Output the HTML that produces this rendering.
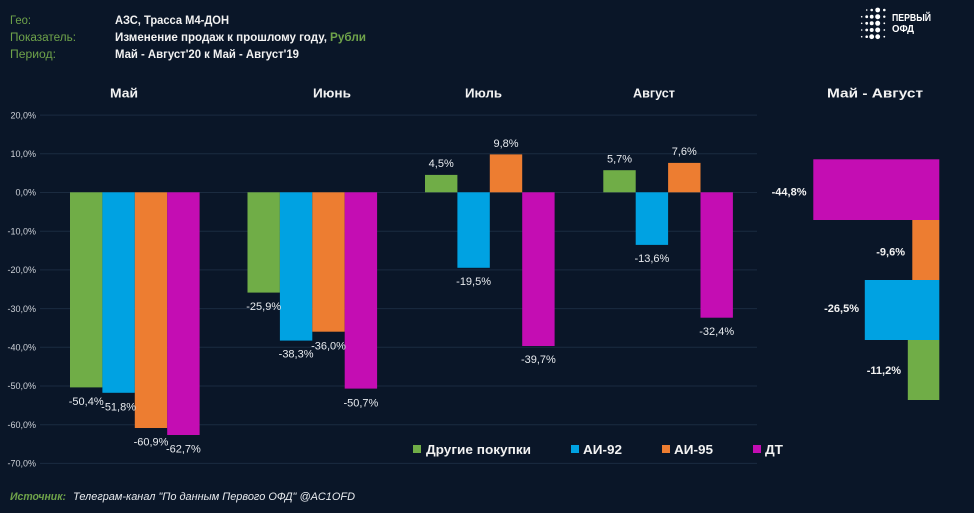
<!DOCTYPE html>
<html>
<head>
<meta charset="utf-8">
<style>
html,body{margin:0;padding:0;background:#0a1628;}
svg{display:block;}
text{font-family:"Liberation Sans","Noto Sans CJK SC",sans-serif;}
</style>
</head>
<body>
<svg width="974" height="513" viewBox="0 0 974 513" xmlns="http://www.w3.org/2000/svg">
<rect x="0" y="0" width="974" height="513" fill="#0a1628"/>

<!-- Header -->
<g font-size="11.5" fill="#6fa34a">
  <text x="10" y="24" textLength="21" lengthAdjust="spacingAndGlyphs">Гео:</text>
  <text x="10" y="41" textLength="66" lengthAdjust="spacingAndGlyphs">Показатель:</text>
  <text x="10" y="58" textLength="46" lengthAdjust="spacingAndGlyphs">Период:</text>
</g>
<g font-size="11.5" font-weight="bold" fill="#f2f2f2">
  <text x="115" y="24" textLength="114" lengthAdjust="spacingAndGlyphs">АЗС, Трасса М4-ДОН</text>
  <text x="115" y="41" textLength="212" lengthAdjust="spacingAndGlyphs">Изменение продаж к прошлому году,</text>
  <text x="330" y="41" textLength="36" lengthAdjust="spacingAndGlyphs" fill="#6fa34a">Рубли</text>
  <text x="115" y="58" textLength="184" lengthAdjust="spacingAndGlyphs">Май - Август'20 к Май - Август'19</text>
</g>

<!-- Logo -->
<g fill="#ffffff">
  <circle cx="866.7" cy="10" r="0.8"/><circle cx="871.7" cy="10" r="1.3"/><circle cx="877.7" cy="10" r="2.4"/><circle cx="884.3" cy="10" r="1.3"/>
  <circle cx="861.7" cy="16.7" r="0.8"/><circle cx="866.7" cy="16.7" r="1.4"/><circle cx="871.7" cy="16.7" r="1.9"/><circle cx="877.7" cy="16.7" r="2.5"/><circle cx="884.3" cy="16.7" r="1.2"/>
  <circle cx="861.7" cy="23.3" r="0.8"/><circle cx="866.7" cy="23.3" r="1.4"/><circle cx="871.7" cy="23.3" r="2.0"/><circle cx="877.7" cy="23.3" r="2.5"/><circle cx="884.3" cy="23.3" r="0.9"/>
  <circle cx="861.7" cy="30" r="0.8"/><circle cx="866.7" cy="30" r="1.4"/><circle cx="871.7" cy="30" r="2.0"/><circle cx="877.7" cy="30" r="2.5"/><circle cx="884.3" cy="30" r="0.9"/>
  <circle cx="861.7" cy="36.7" r="0.8"/><circle cx="866.7" cy="36.7" r="1.3"/><circle cx="871.7" cy="36.7" r="2.4"/><circle cx="877.7" cy="36.7" r="2.4"/><circle cx="884.3" cy="36.7" r="0.9"/>
</g>
<g font-size="10" font-weight="bold" fill="#ffffff">
  <text x="892" y="21" textLength="39" lengthAdjust="spacingAndGlyphs">ПЕРВЫЙ</text>
  <text x="892" y="32" textLength="22" lengthAdjust="spacingAndGlyphs">ОФД</text>
</g>

<!-- Category titles -->
<g font-size="13" font-weight="bold" fill="#f2f2f2">
  <text x="110" y="97.5" textLength="28" lengthAdjust="spacingAndGlyphs">Май</text>
  <text x="313" y="97.5" textLength="38" lengthAdjust="spacingAndGlyphs">Июнь</text>
  <text x="465" y="97.5" textLength="37" lengthAdjust="spacingAndGlyphs">Июль</text>
  <text x="633" y="97.5" textLength="42" lengthAdjust="spacingAndGlyphs">Август</text>
  <text x="827" y="97.5" textLength="96" lengthAdjust="spacingAndGlyphs">Май - Август</text>
</g>

<!-- Gridlines -->
<g stroke="#1b2b40" stroke-width="1">
  <line x1="40" y1="115.1" x2="757" y2="115.1"/>
  <line x1="40" y1="153.8" x2="757" y2="153.8"/>
  <line x1="40" y1="192.5" x2="757" y2="192.5"/>
  <line x1="40" y1="231.2" x2="757" y2="231.2"/>
  <line x1="40" y1="269.9" x2="757" y2="269.9"/>
  <line x1="40" y1="308.6" x2="757" y2="308.6"/>
  <line x1="40" y1="347.3" x2="757" y2="347.3"/>
  <line x1="40" y1="386" x2="757" y2="386"/>
  <line x1="40" y1="424.7" x2="757" y2="424.7"/>
  <line x1="40" y1="463.4" x2="757" y2="463.4"/>
</g>

<!-- Y axis labels -->
<g font-size="9" fill="#cdd1d8" text-anchor="end">
  <text x="36" y="118.3">20,0%</text>
  <text x="36" y="157">10,0%</text>
  <text x="36" y="195.7">0,0%</text>
  <text x="36" y="234.4">-10,0%</text>
  <text x="36" y="273.1">-20,0%</text>
  <text x="36" y="311.8">-30,0%</text>
  <text x="36" y="350.5">-40,0%</text>
  <text x="36" y="389.2">-50,0%</text>
  <text x="36" y="427.9">-60,0%</text>
  <text x="36" y="466.6">-70,0%</text>
</g>

<!-- Bars: May -->
<rect x="70" y="192.3" width="32.4" height="195.1" fill="#70ad47"/>
<rect x="102.4" y="192.3" width="32.4" height="200.5" fill="#00a2e2"/>
<rect x="134.8" y="192.3" width="32.4" height="235.7" fill="#ed7d31"/>
<rect x="167.2" y="192.3" width="32.4" height="242.7" fill="#c40db3"/>
<!-- June -->
<rect x="247.5" y="192.3" width="32.4" height="100.3" fill="#70ad47"/>
<rect x="279.9" y="192.3" width="32.4" height="148.3" fill="#00a2e2"/>
<rect x="312.3" y="192.3" width="32.4" height="139.4" fill="#ed7d31"/>
<rect x="344.7" y="192.3" width="32.4" height="196.3" fill="#c40db3"/>
<!-- July -->
<rect x="425" y="174.9" width="32.4" height="17.4" fill="#70ad47"/>
<rect x="457.4" y="192.3" width="32.4" height="75.5" fill="#00a2e2"/>
<rect x="489.8" y="154.4" width="32.4" height="37.9" fill="#ed7d31"/>
<rect x="522.2" y="192.3" width="32.4" height="153.7" fill="#c40db3"/>
<!-- August -->
<rect x="603.3" y="170.2" width="32.4" height="22.1" fill="#70ad47"/>
<rect x="635.7" y="192.3" width="32.4" height="52.6" fill="#00a2e2"/>
<rect x="668.1" y="162.9" width="32.4" height="29.4" fill="#ed7d31"/>
<rect x="700.5" y="192.3" width="32.4" height="125.4" fill="#c40db3"/>

<!-- Bar labels -->
<g font-size="11" fill="#e8ebef" text-anchor="middle">
  <text x="86.2" y="405">-50,4%</text>
  <text x="118.6" y="410.3">-51,8%</text>
  <text x="151" y="445.5">-60,9%</text>
  <text x="183.4" y="452.5">-62,7%</text>

  <text x="263.7" y="309.8">-25,9%</text>
  <text x="296.1" y="357.6">-38,3%</text>
  <text x="328.5" y="349.5">-36,0%</text>
  <text x="360.9" y="406.3">-50,7%</text>

  <text x="441.2" y="167">4,5%</text>
  <text x="473.6" y="285">-19,5%</text>
  <text x="506" y="147">9,8%</text>
  <text x="538.4" y="363">-39,7%</text>

  <text x="619.5" y="162.5">5,7%</text>
  <text x="651.9" y="262">-13,6%</text>
  <text x="684.3" y="155">7,6%</text>
  <text x="716.7" y="335">-32,4%</text>
</g>

<!-- Right horizontal chart -->
<rect x="813.3" y="159.3" width="126" height="60.7" fill="#c40db3"/>
<rect x="912.3" y="220" width="27" height="60" fill="#ed7d31"/>
<rect x="864.8" y="280" width="74.5" height="60" fill="#00a2e2"/>
<rect x="907.8" y="340" width="31.5" height="60" fill="#70ad47"/>
<g font-size="11" font-weight="bold" fill="#f2f2f2" text-anchor="end">
  <text x="806.5" y="195.5">-44,8%</text>
  <text x="905" y="255.5">-9,6%</text>
  <text x="859" y="312">-26,5%</text>
  <text x="901" y="374">-11,2%</text>
</g>

<!-- Legend -->
<rect x="413" y="445" width="8" height="8" fill="#70ad47"/>
<rect x="571" y="445" width="8" height="8" fill="#00a2e2"/>
<rect x="662" y="445" width="8" height="8" fill="#ed7d31"/>
<rect x="753" y="445" width="8" height="8" fill="#c40db3"/>
<g font-size="12.5" font-weight="bold" fill="#f2f2f2">
  <text x="426" y="454" textLength="105" lengthAdjust="spacingAndGlyphs">Другие покупки</text>
  <text x="583" y="454" textLength="39" lengthAdjust="spacingAndGlyphs">АИ-92</text>
  <text x="674" y="454" textLength="39" lengthAdjust="spacingAndGlyphs">АИ-95</text>
  <text x="765" y="454" textLength="18" lengthAdjust="spacingAndGlyphs">ДТ</text>
</g>

<!-- Footer -->
<text x="10" y="500" font-size="11" font-weight="bold" font-style="italic" fill="#6fa34a" textLength="56" lengthAdjust="spacingAndGlyphs">Источник:</text>
<text x="73" y="500" font-size="11" font-style="italic" fill="#e8ebef" textLength="282" lengthAdjust="spacingAndGlyphs">Телеграм-канал "По данным Первого ОФД" @AC1OFD</text>
</svg>
</body>
</html>
